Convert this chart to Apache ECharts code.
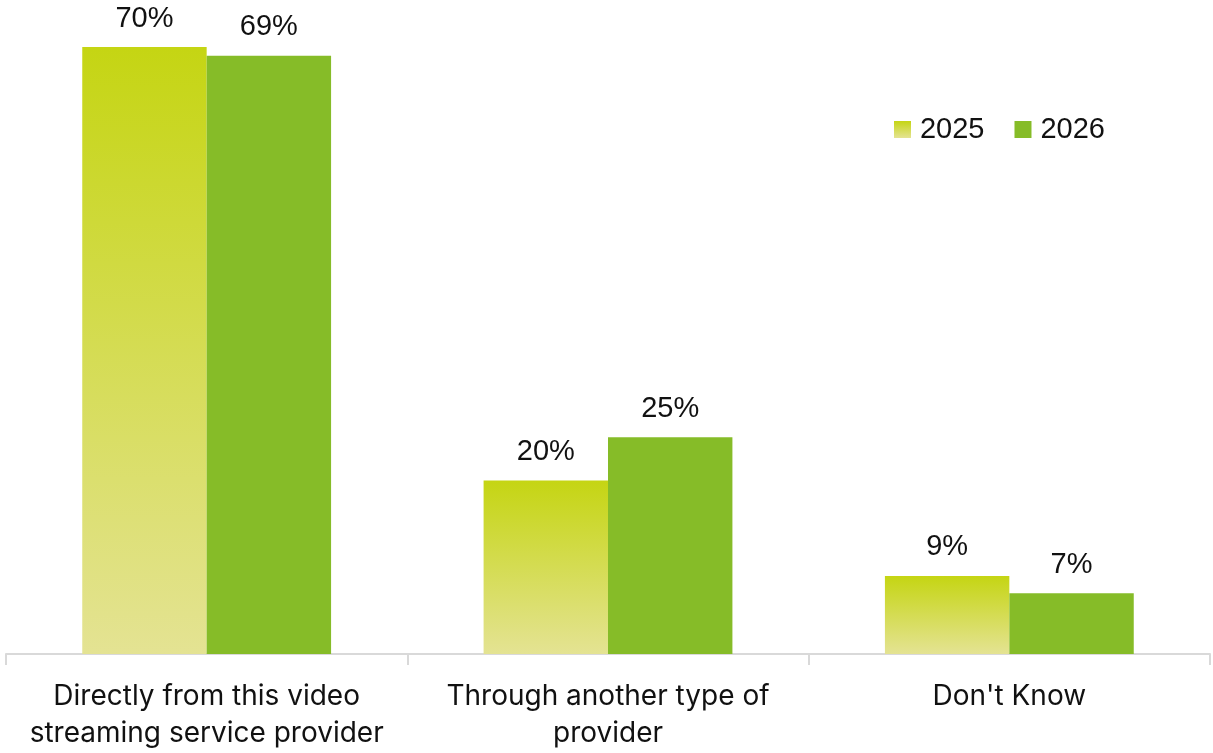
<!DOCTYPE html>
<html>
<head>
<meta charset="utf-8">
<script src="https://cdn.jsdelivr.net/npm/echarts@6/dist/echarts.min.js"></script>
<style>
  html, body { margin: 0; padding: 0; background: #fff; }
  #chart { width: 1213px; height: 753px; }
</style>
</head>
<body>
<div id="chart"></div>
<script>
// How viewers pay for the video streaming service
const categories = [
  'Directly from this video\nstreaming service provider',
  'Through another type of\nprovider',
  "Don't Know"
];
const seriesNames = ['2025', '2026'];
const values2025 = [70, 20, 9];
const values2026 = [69, 25, 7];

const chart = echarts.init(document.getElementById('chart'));

const fade2025 = new echarts.graphic.LinearGradient(0, 0, 0, 1, [
  { offset: 0, color: '#c5d513' },
  { offset: 1, color: '#e4e393' }
]);
const solid2026 = '#86bc28';

const valueLabel = {
  show: true,
  position: 'top',
  distance: 14,
  formatter: p => p.value + '%',
  fontFamily: 'Liberation Sans, Arial, sans-serif',
  fontSize: 29,
  color: '#111'
};

chart.setOption({
  animation: false,
  backgroundColor: '#fff',
  grid: { left: 6, right: 3, top: 47, bottom: 99, containLabel: false },
  legend: {
    data: seriesNames,
    right: 103,
    top: 110,
    icon: 'rect',
    itemWidth: 17,
    itemHeight: 17,
    itemGap: 30,
    textStyle: {
      fontFamily: 'Liberation Sans, Arial, sans-serif',
      fontSize: 29,
      color: '#111',
      padding: [0, 0, 0, 4]
    }
  },
  xAxis: {
    type: 'category',
    data: categories,
    axisLine: { lineStyle: { color: '#d9d9d9', width: 2 } },
    axisTick: { show: true, alignWithLabel: false, length: 11, lineStyle: { color: '#d9d9d9', width: 2 } },
    axisLabel: {
      interval: 0,
      margin: 24,
      fontFamily: 'Inter, Noto Sans, sans-serif',
      fontSize: 28,
      lineHeight: 37,
      color: '#111'
    }
  },
  yAxis: {
    type: 'value',
    min: 0,
    max: 70,
    show: false,
    splitLine: { show: false }
  },
  series: [
    {
      name: seriesNames[0],
      type: 'bar',
      data: values2025,
      barGap: '0%',
      barCategoryGap: '38%',
      itemStyle: { color: fade2025 },
      label: valueLabel
    },
    {
      name: seriesNames[1],
      type: 'bar',
      data: values2026,
      barGap: '0%',
      barCategoryGap: '38%',
      itemStyle: { color: solid2026 },
      label: valueLabel
    }
  ]
});
</script>
</body>
</html>
